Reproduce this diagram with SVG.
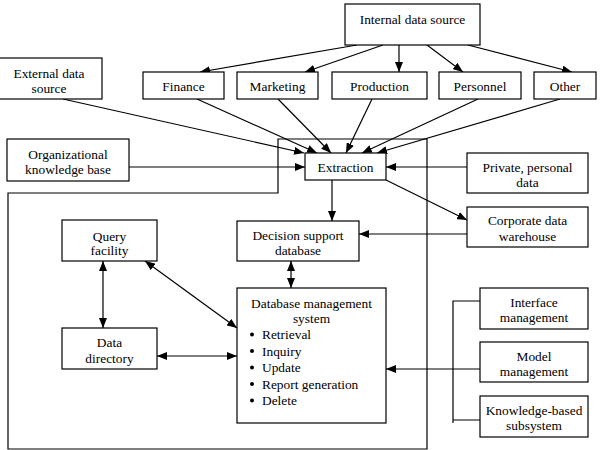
<svg xmlns="http://www.w3.org/2000/svg" width="604" height="450" viewBox="0 0 604 450">
<style>
.t{text-anchor:middle}
.b{fill:#fff;stroke:#000;stroke-width:1.2}
.c{fill:none;stroke:#000;stroke-width:1.2}
.ae{marker-end:url(#ah)}
.ab{marker-end:url(#ah);marker-start:url(#ahs)}
</style>
<defs>
<marker id="ah" viewBox="0 0 10 8" refX="10" refY="4" markerWidth="10" markerHeight="8" markerUnits="userSpaceOnUse" orient="auto"><path d="M0,0 L10,4 L0,8 z" fill="#000"/></marker>
<marker id="ahs" viewBox="0 0 10 8" refX="10" refY="4" markerWidth="10" markerHeight="8" markerUnits="userSpaceOnUse" orient="auto-start-reverse"><path d="M0,0 L10,4 L0,8 z" fill="#000"/></marker>
</defs>
<rect width="604" height="450" fill="#fff"/>
<g id="boundary"><path class="c" d="M8,449 L8,193 L278,193 L278,139 L427,139 L427,449 Z"/></g>
<g id="connectors">
<line class="c ae" x1="357" y1="45" x2="200" y2="72"/>
<line class="c ae" x1="383" y1="45" x2="305" y2="72"/>
<line class="c ae" x1="399" y1="45" x2="399" y2="72"/>
<line class="c ae" x1="427" y1="45" x2="463" y2="72"/>
<line class="c ae" x1="468" y1="45" x2="572" y2="72"/>
<line class="c ae" x1="63" y1="99" x2="304" y2="153"/>
<line class="c ae" x1="197" y1="99" x2="317" y2="153"/>
<line class="c ae" x1="278" y1="99" x2="331" y2="153"/>
<line class="c ae" x1="372" y1="99" x2="346" y2="153"/>
<line class="c ae" x1="478" y1="99" x2="362" y2="153"/>
<line class="c ae" x1="560" y1="99" x2="377" y2="153"/>
<line class="c ae" x1="129" y1="167" x2="305" y2="167"/>
<line class="c ae" x1="467" y1="167" x2="386" y2="167"/>
<line class="c ae" x1="386" y1="180" x2="467" y2="220"/>
<line class="c ae" x1="332" y1="180" x2="332" y2="221"/>
<line class="c ae" x1="467" y1="234" x2="359" y2="234"/>
<line class="c ab" x1="291" y1="261" x2="291" y2="288"/>
<line class="c ab" x1="103" y1="261" x2="103" y2="328"/>
<line class="c ab" x1="145" y1="261" x2="237" y2="328"/>
<line class="c ab" x1="157" y1="356" x2="237" y2="356"/>
<path class="c" d="M480,301 L453,301 L453,423 M453,420 L480,420"/>
<line class="c ae" x1="480" y1="369" x2="386" y2="369"/>
</g>
<g font-family="'Liberation Serif', 'Times New Roman', serif" font-size="13.4" fill="#000">
<g id="internal"><rect class="b" x="345" y="4" width="135" height="41"/><text class="t" x="412.5" y="24">Internal data source</text></g>
<g id="external"><rect class="b" x="-5" y="58" width="107" height="41"/><text class="t" x="49" y="77.5">External data</text><text class="t" x="49" y="92.5">source</text></g>
<g id="finance"><rect class="b" x="143" y="72" width="81" height="27"/><text class="t" x="183.5" y="90.5">Finance</text></g>
<g id="marketing"><rect class="b" x="237" y="72" width="81" height="27"/><text class="t" x="277.5" y="90.5">Marketing</text></g>
<g id="production"><rect class="b" x="332" y="72" width="95" height="27"/><text class="t" x="379.5" y="90.5">Production</text></g>
<g id="personnel"><rect class="b" x="439" y="72" width="82" height="27"/><text class="t" x="480" y="90.5">Personnel</text></g>
<g id="other"><rect class="b" x="534" y="72" width="62" height="27"/><text class="t" x="565" y="90.5">Other</text></g>
<g id="orgkb"><rect class="b" x="7" y="139" width="122" height="42"/><text class="t" x="68" y="158.5">Organizational</text><text class="t" x="68" y="173.5">knowledge base</text></g>
<g id="extraction"><rect class="b" x="305" y="153" width="81" height="27"/><text class="t" x="345.5" y="171.5">Extraction</text></g>
<g id="private"><rect class="b" x="467" y="153" width="121" height="40"/><text class="t" x="527.5" y="171.5">Private, personal</text><text class="t" x="527.5" y="186.5">data</text></g>
<g id="corporate"><rect class="b" x="467" y="207" width="121" height="40"/><text class="t" x="527.5" y="225">Corporate data</text><text class="t" x="527.5" y="241">warehouse</text></g>
<g id="dsd"><rect class="b" x="237" y="221" width="122" height="40"/><text class="t" x="298" y="239.5">Decision support</text><text class="t" x="298" y="254.5">database</text></g>
<g id="query"><rect class="b" x="62" y="220" width="95" height="41"/><text class="t" x="109.5" y="240.5">Query</text><text class="t" x="109.5" y="254.5">facility</text></g>
<g id="directory"><rect class="b" x="62" y="328" width="95" height="41"/><text class="t" x="109.5" y="347">Data</text><text class="t" x="109.5" y="362.5">directory</text></g>
<g id="dbms"><rect class="b" x="237" y="288" width="149" height="135"/>
<text class="t" x="311.5" y="307.5">Database management</text><text class="t" x="311.5" y="323">system</text>
<g fill="#000"><circle cx="252" cy="334.5" r="2"/><circle cx="252" cy="351" r="2"/><circle cx="252" cy="367.5" r="2"/><circle cx="252" cy="384" r="2"/><circle cx="252" cy="400.5" r="2"/></g>
<text x="262" y="339">Retrieval</text><text x="262" y="355.5">Inquiry</text><text x="262" y="372">Update</text><text x="262" y="388.5">Report generation</text><text x="262" y="405">Delete</text></g>
<g id="interface"><rect class="b" x="480" y="288" width="108" height="41"/><text class="t" x="534" y="307">Interface</text><text class="t" x="534" y="322">management</text></g>
<g id="model"><rect class="b" x="480" y="342" width="108" height="40"/><text class="t" x="534" y="361">Model</text><text class="t" x="534" y="376">management</text></g>
<g id="kbs"><rect class="b" x="480" y="396" width="108" height="41"/><text class="t" x="534" y="414.5">Knowledge-based</text><text class="t" x="534" y="430">subsystem</text></g>
</g>
</svg>
